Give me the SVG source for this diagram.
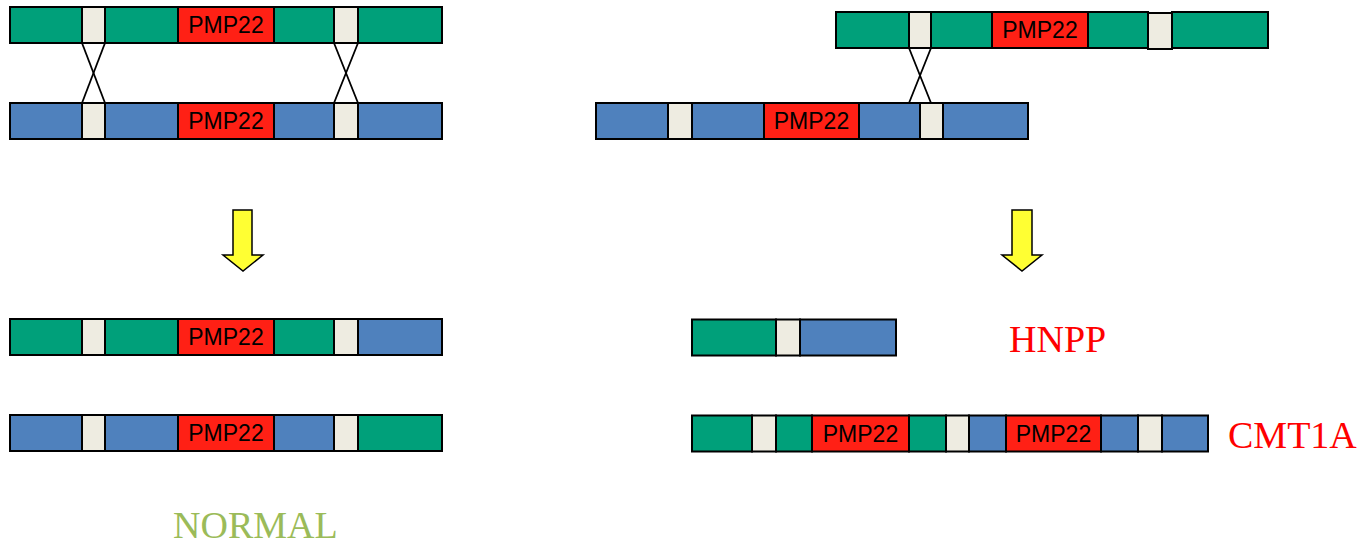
<svg xmlns="http://www.w3.org/2000/svg" width="1359" height="546" viewBox="0 0 1359 546">
  <style>
    .g { fill: #00A07A; stroke: #000; stroke-width: 2; }
    .b { fill: #4F81BD; stroke: #000; stroke-width: 2; }
    .r { fill: #FF2015; stroke: #000; stroke-width: 2; }
    .s { fill: #EEECE1; stroke: #000; stroke-width: 2; }
    .gene { font-family: "Liberation Sans", Arial, sans-serif; font-size: 23px; fill: #000; text-anchor: middle; }
    .lbl { font-family: "Liberation Serif", "Times New Roman", serif; font-size: 38px; }
    .arrow { fill: #FFFF33; stroke: #000; stroke-width: 1.5; stroke-linejoin: miter; }
    .cross { stroke: #000; stroke-width: 1.8; fill: none; }
  </style>

  <!-- Left: normal pairing, top chromosome -->
  <g id="left-top-green">
    <rect class="g" x="10" y="7" width="72" height="36"/>
    <rect class="s" x="82" y="7" width="23" height="36"/>
    <rect class="g" x="105" y="7" width="73" height="36"/>
    <rect class="r" x="178" y="7" width="96" height="36"/>
    <rect class="g" x="274" y="7" width="60" height="36"/>
    <rect class="s" x="334" y="7" width="24" height="36"/>
    <rect class="g" x="358" y="7" width="84" height="36"/>
    <text class="gene" x="226" y="33">PMP22</text>
  </g>

  <g id="left-top-blue">
    <rect class="b" x="10" y="103" width="72" height="36"/>
    <rect class="s" x="82" y="103" width="23" height="36"/>
    <rect class="b" x="105" y="103" width="73" height="36"/>
    <rect class="r" x="178" y="103" width="96" height="36"/>
    <rect class="b" x="274" y="103" width="60" height="36"/>
    <rect class="s" x="334" y="103" width="24" height="36"/>
    <rect class="b" x="358" y="103" width="84" height="36"/>
    <text class="gene" x="226" y="129">PMP22</text>
  </g>

  <!-- Right: misaligned pairing -->
  <g id="right-top-green">
    <rect class="g" x="836" y="12" width="73" height="36"/>
    <rect class="g" x="931" y="12" width="61" height="36"/>
    <rect class="r" x="992" y="12" width="96" height="36"/>
    <rect class="g" x="1088" y="12" width="60" height="36"/>
    <rect class="g" x="1172" y="12" width="96" height="36"/>
    <rect class="s" x="909" y="12" width="22" height="36"/>
    <rect class="s" x="1148" y="13" width="24" height="36"/>
    <text class="gene" x="1040" y="38">PMP22</text>
  </g>

  <g id="right-top-blue">
    <rect class="b" x="596" y="103" width="72" height="36"/>
    <rect class="s" x="668" y="103" width="24" height="36"/>
    <rect class="b" x="692" y="103" width="72" height="36"/>
    <rect class="r" x="764" y="103" width="95" height="36"/>
    <rect class="b" x="859" y="103" width="61" height="36"/>
    <rect class="s" x="920" y="103" width="23" height="36"/>
    <rect class="b" x="943" y="103" width="85" height="36"/>
    <text class="gene" x="811.5" y="129">PMP22</text>
  </g>

  <!-- Crossover connectors -->
  <g id="connectors">
    <line class="cross" x1="82" y1="43" x2="105" y2="103"/>
    <line class="cross" x1="105" y1="43" x2="82" y2="103"/>
    <line class="cross" x1="334" y1="43" x2="358" y2="103"/>
    <line class="cross" x1="358" y1="43" x2="334" y2="103"/>
    <line class="cross" x1="909" y1="48" x2="931" y2="103"/>
    <line class="cross" x1="931" y1="48" x2="909" y2="103"/>
  </g>

  <!-- Result arrows -->
  <g id="arrow-left">
    <polygon class="arrow" points="233,210 252,210 252,255 263,255 243,271 223,255 233,255"/>
  </g>
  <g id="arrow-right">
    <polygon class="arrow" points="1012,210 1032,210 1032,255 1042,255 1022,271 1002,255 1012,255"/>
  </g>

  <!-- Left: products of equal crossing over -->
  <g id="left-bottom-1">
    <rect class="g" x="10" y="319" width="72" height="36"/>
    <rect class="s" x="82" y="319" width="23" height="36"/>
    <rect class="g" x="105" y="319" width="73" height="36"/>
    <rect class="r" x="178" y="319" width="96" height="36"/>
    <rect class="g" x="274" y="319" width="60" height="36"/>
    <rect class="s" x="334" y="319" width="24" height="36"/>
    <rect class="b" x="358" y="319" width="84" height="36"/>
    <text class="gene" x="226" y="345">PMP22</text>
  </g>

  <g id="left-bottom-2">
    <rect class="b" x="10" y="415" width="72" height="36"/>
    <rect class="s" x="82" y="415" width="23" height="36"/>
    <rect class="b" x="105" y="415" width="73" height="36"/>
    <rect class="r" x="178" y="415" width="96" height="36"/>
    <rect class="b" x="274" y="415" width="60" height="36"/>
    <rect class="s" x="334" y="415" width="24" height="36"/>
    <rect class="g" x="358" y="415" width="84" height="36"/>
    <text class="gene" x="226" y="441">PMP22</text>
  </g>

  <!-- Right: products of unequal crossing over -->
  <g id="hnpp-chromosome">
    <rect class="g" x="692" y="319.5" width="84" height="36"/>
    <rect class="s" x="776" y="319.5" width="24" height="36"/>
    <rect class="b" x="800" y="319.5" width="96" height="36"/>
  </g>

  <g id="cmt1a-chromosome">
    <rect class="g" x="692" y="415.5" width="60" height="36"/>
    <rect class="s" x="752" y="415.5" width="24" height="36"/>
    <rect class="g" x="776" y="415.5" width="36" height="36"/>
    <rect class="r" x="812" y="415.5" width="97" height="36"/>
    <rect class="g" x="909" y="415.5" width="37" height="36"/>
    <rect class="s" x="946" y="415.5" width="23" height="36"/>
    <rect class="b" x="969" y="415.5" width="37" height="36"/>
    <rect class="r" x="1006" y="415.5" width="95" height="36"/>
    <rect class="b" x="1101" y="415.5" width="37" height="36"/>
    <rect class="s" x="1138" y="415.5" width="24" height="36"/>
    <rect class="b" x="1162" y="415.5" width="46" height="36"/>
    <text class="gene" x="860.5" y="441.5">PMP22</text>
    <text class="gene" x="1053.5" y="441.5">PMP22</text>
  </g>

  <!-- Outcome labels -->
  <g id="labels">
    <text class="lbl" x="1009" y="352" fill="#FF0000">HNPP</text>
    <text class="lbl" x="1228" y="448" fill="#FF0000">CMT1A</text>
    <text class="lbl" x="173" y="538" fill="#9BBB59" font-size="37">NORMAL</text>
  </g>
</svg>
